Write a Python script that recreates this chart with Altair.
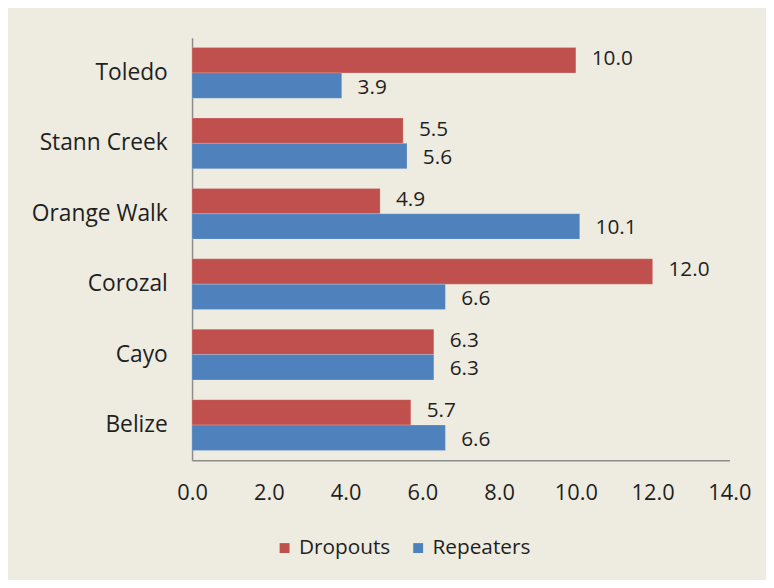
import altair as alt
import pandas as pd

categories = ["Toledo", "Stann Creek", "Orange Walk", "Corozal", "Cayo", "Belize"]
series = ["Dropouts", "Repeaters"]
dropouts = [10.0, 5.5, 4.9, 12.0, 6.3, 5.7]
repeaters = [3.9, 5.6, 10.1, 6.6, 6.3, 6.6]
x_ticks = [0, 2, 4, 6, 8, 10, 12, 14]
colors = ["#C0504D", "#4F81BD"]

rows = []
for c, d, r in zip(categories, dropouts, repeaters):
    rows.append({"district": c, "series": "Dropouts", "value": d})
    rows.append({"district": c, "series": "Repeaters", "value": r})
df = pd.DataFrame(rows)

FONT = "Open Sans"
TXT = "#1f1f1f"

y_enc = alt.Y("district:N", sort=categories, title=None,
              scale=alt.Scale(paddingInner=0.28, paddingOuter=0.14),
              axis=alt.Axis(ticks=False, labelFontSize=23, labelFont=FONT,
                            labelColor=TXT, labelPadding=25,
                            domainColor="#8c8c8c", domainWidth=1.5))
yoff = alt.YOffset("series:N", sort=series, scale=alt.Scale(paddingInner=0, paddingOuter=0))

base = alt.Chart(df).encode(
    y=y_enc,
    yOffset=yoff,
    x=alt.X("value:Q", title=None,
            scale=alt.Scale(domain=[0, 14], nice=False),
            axis=alt.Axis(values=x_ticks, format=".1f", ticks=False, grid=False,
                          labelFlush=False, labelFontSize=22, labelFont=FONT,
                          labelColor=TXT, labelPadding=23,
                          domainColor="#8c8c8c", domainWidth=1.5)),
)

bars = base.mark_bar(stroke="#ffffff", strokeOpacity=0.35, strokeWidth=0.5).encode(
    color=alt.Color("series:N", sort=series, title=None,
                    scale=alt.Scale(domain=series, range=colors),
                    legend=alt.Legend(orient="none", legendX=83, legendY=505,
                                      direction="horizontal", symbolType="square",
                                      symbolSize=100, symbolStrokeWidth=0,
                                      labelFontSize=21, labelFont=FONT,
                                      labelColor=TXT, columnPadding=17,
                                      symbolOffset=0, labelOffset=4))
)

labels_d = base.mark_text(align="left", baseline="middle", dx=16, dy=-1, fontSize=21,
                          font=FONT, color=TXT).encode(
    text=alt.Text("value:Q", format=".1f")
).transform_filter(alt.datum.series == "Dropouts")

labels_r = base.mark_text(align="left", baseline="middle", dx=16, dy=2, fontSize=21,
                          font=FONT, color=TXT).encode(
    text=alt.Text("value:Q", format=".1f")
).transform_filter(alt.datum.series == "Repeaters")

chart = alt.layer(bars, labels_d, labels_r).properties(
    width=543, height=427,
    background="#EEEBE0",
    autosize=alt.AutoSizeParams(type="none"),
    padding={"left": 186, "top": 27, "right": 37, "bottom": 118},
).configure_view(stroke=None)

chart.save("out.html", embed_options={"renderer": "svg", "actions": False})
